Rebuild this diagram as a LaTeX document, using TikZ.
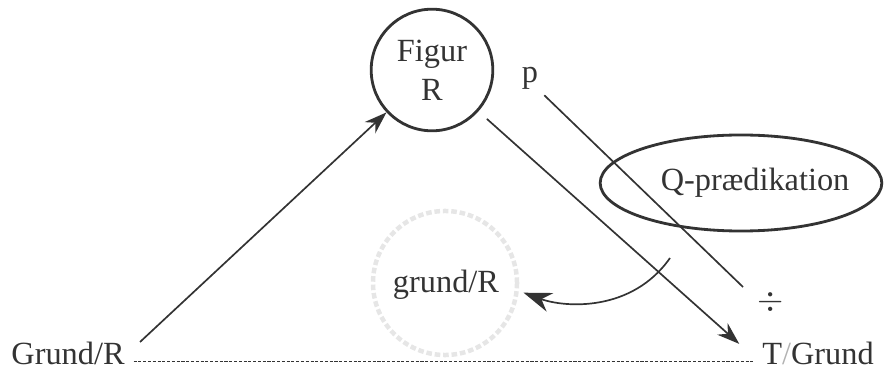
\documentclass[tikz,border=0pt]{standalone}
\usepackage{fontspec}
\setmainfont{Liberation Serif}
\usetikzlibrary{arrows.meta,shapes.geometric,calc}
\definecolor{ink}{HTML}{333333}
\definecolor{faint}{HTML}{E6E6E6}
\tikzset{
  every node/.style={font=\fontsize{11.5}{14}\selectfont,text=ink},
  figurnode/.style={circle,draw=ink,line width=1pt,minimum size=1.52cm,align=center,inner sep=0pt},
  prednode/.style={ellipse,draw=ink,line width=1pt,minimum width=3.52cm,minimum height=1.2cm,inner sep=0pt},
  ghostnode/.style={circle,draw=faint,line width=1.6pt,dash pattern=on 2pt off 1pt,minimum size=1.8cm,inner sep=0pt},
  word/.style={inner sep=1pt},
  arr/.style={-{Stealth[length=8pt,width=5.5pt]},draw=ink,line width=0.6pt},
  plain/.style={draw=ink,line width=0.6pt},
  baseline/.style={draw=ink,line width=0.5pt,dash pattern=on 1.1pt off 0.6pt},
}
\begin{document}
\begin{tikzpicture}[x=0.0125cm,y=-0.0125cm]
\useasboundingbox (0,0) rectangle (884,369);

\node[figurnode] (figur) at (432,70) {Figur\\R};
\node[word] (p) at (530,78) {p};
\node[prednode] (pred) at (741,183) {\makebox[0pt]{\hspace{10pt}Q-prædikation}};
\node[ghostnode] (ghost) at (445,283) {};
\node[word] (grundr) at (446,285) {grund/R};
\node[word] (div) at (771,302) {$\div$};
\node[word] (grund) at (68,353) {Grund/R};
\node[word] (tgrund) at (818,353) {T{\color{gray!60}/}Grund};

\coordinate (gstart) at (140,342);
\coordinate (pend) at (743,287);
\coordinate (cstart) at (670,258);

% main arrows
\draw[arr] (gstart) -- (figur);
\draw[arr,shorten <=4pt] (figur) -- ([xshift=-7pt,yshift=-2pt]tgrund.north west);
\draw[plain] ([xshift=1pt,yshift=-1pt]p.south east) -- (pend);

% turn back to the ground
\draw[arr,-{Stealth[length=10pt,width=7pt]},shorten >=8pt] (cstart) to[out=-125,in=-20] (grundr.east);

% ground line
\draw[baseline,shorten <=2pt,shorten >=2pt] ([yshift=-3pt]grund.east) -- ([yshift=-3pt]tgrund.west);

\end{tikzpicture}
\end{document}
